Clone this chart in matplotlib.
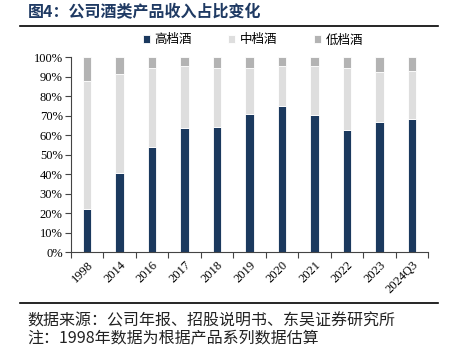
import matplotlib
matplotlib.use("Agg")
import matplotlib.pyplot as plt
from matplotlib.lines import Line2D
import numpy as np

categories = ["1998", "2014", "2016", "2017", "2018", "2019", "2020", "2021", "2022", "2023", "2024Q3"]
high = [22.0, 40.8, 53.8, 63.4, 64.1, 70.8, 74.7, 70.3, 62.6, 66.8, 68.2]
mid = [65.5, 50.5, 40.6, 32.1, 30.1, 23.4, 20.8, 25.2, 31.8, 25.5, 24.4]
low = [12.5, 8.7, 5.6, 4.5, 5.8, 5.8, 4.5, 4.5, 5.6, 7.7, 7.4]
series_names = ["高档酒", "中档酒", "低档酒"]
colors = ["#1b395e", "#dedede", "#b3b3b3"]

cjk = ["Noto Sans CJK SC", "DejaVu Sans"]
serif = ["Liberation Serif", "DejaVu Serif"]

fig = plt.figure(figsize=(4.51, 3.46), dpi=100)
ax = fig.add_axes([71/451, 1 - 252.3/346, (428-71)/451, (252.3-57)/346])

x = np.arange(len(categories))
w = 0.26
b1 = ax.bar(x, high, w, color=colors[0], edgecolor="white", linewidth=0.6, label=series_names[0])
b2 = ax.bar(x, mid, w, bottom=high, color=colors[1], edgecolor="white", linewidth=0.6, label=series_names[1])
bottom2 = [h + m for h, m in zip(high, mid)]
b3 = ax.bar(x, low, w, bottom=bottom2, color=colors[2], edgecolor="white", linewidth=0.6, label=series_names[2])

ax.set_xlim(-0.5, len(categories) - 0.5)
ax.set_ylim(0, 100)
ax.set_yticks(np.arange(0, 101, 10))
ax.set_yticklabels([f"{v}%" for v in range(0, 101, 10)], fontfamily=serif, fontsize=9)
ax.set_xticks(x)
ax.set_xticklabels(categories, rotation=45, ha="right", rotation_mode="anchor", fontfamily=serif, fontsize=9)
ax.tick_params(axis="x", which="major", length=0, pad=5)
ax.set_xticks(np.arange(-0.5, len(categories), 1), minor=True)
ax.tick_params(axis="x", which="minor", length=4, width=0.8, color="#444444", direction="out")
ax.tick_params(axis="y", length=4, width=0.8, color="#444444", direction="out", pad=2)
for s in ["top", "right"]:
    ax.spines[s].set_visible(False)
for s in ["left", "bottom"]:
    ax.spines[s].set_color("#444444")
    ax.spines[s].set_linewidth(0.8)

leg = fig.legend(handles=[b1, b2, b3], labels=series_names, loc="center", bbox_to_anchor=(253/451, 1 - 40/346),
                 ncol=3, frameon=False, prop={"family": cjk, "size": 9}, handlelength=0.55, handleheight=0.55,
                 columnspacing=2.9, handletextpad=0.4)

fig.text(28/451, 1 - 12/346, "图4：公司酒类产品收入占比变化", fontfamily=cjk, fontsize=11.5, fontweight="bold",
         color="#1f3a63", va="center", ha="left")
fig.add_artist(Line2D([20/451, 438/451], [1 - 26/346, 1 - 26/346], color="black", linewidth=1.2))
fig.add_artist(Line2D([20/451, 438/451], [1 - 303/346, 1 - 303/346], color="black", linewidth=1.2))
fig.text(27/451, 1 - 321/346, "数据来源：公司年报、招股说明书、东吴证券研究所", fontfamily=cjk, fontsize=11.5,
         color="#222222", va="center", ha="left")
fig.text(27/451, 1 - 338/346, "注：1998年数据为根据产品系列数据估算", fontfamily=cjk, fontsize=11.5,
         color="#222222", va="center", ha="left")

fig.savefig("out.png", dpi=100)
